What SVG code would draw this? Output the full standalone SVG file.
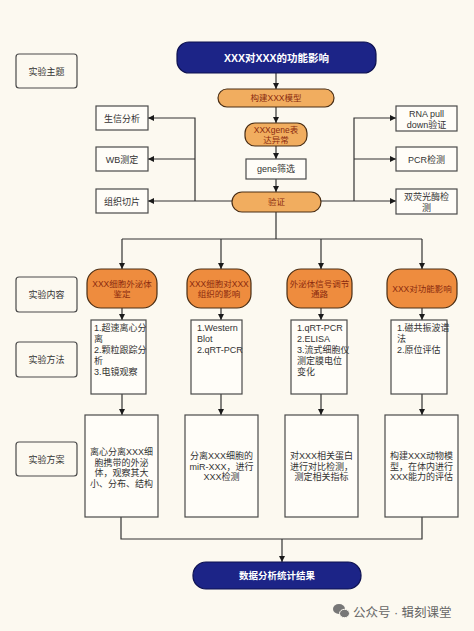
<svg xmlns="http://www.w3.org/2000/svg" width="474" height="631" viewBox="0 0 474 631">
<defs>
<marker id="ah" viewBox="0 0 8 8" refX="8" refY="4" markerWidth="6" markerHeight="6" markerUnits="userSpaceOnUse" orient="auto">
<path d="M0,0 L8,4 L0,8 Z" fill="#1a1a1a"/>
</marker>
<style>
text{font-family:"Liberation Sans","Noto Sans CJK SC",sans-serif;}
.lbl{fill:#fcf9f0;stroke:#4a4a4a;stroke-width:1.2;}
.box{fill:#fffdf8;stroke:#4a4a4a;stroke-width:1.2;}
.nav{fill:#1c2487;stroke:#0d1150;stroke-width:1.2;}
.or1{fill:#f1ad5f;stroke:#4a2e14;stroke-width:1.2;}
.or2{fill:#ee8c3e;stroke:#4a2e14;stroke-width:1.2;}
.t{font-size:9px;fill:#333;text-anchor:middle;}
.tl{font-size:9px;fill:#333;}
.to{font-size:8.5px;fill:#8a2a0e;text-anchor:middle;}
.tw{font-weight:bold;fill:#fff;text-anchor:middle;}
.ln{fill:none;stroke:#333;stroke-width:1.2;}
</style>
</defs>
<rect x="0" y="0" width="474" height="631" fill="#fcf9f0"/>

<g id="connectors">
<path class="ln" d="M276,73 V89" marker-end="url(#ah)"/>
<path class="ln" d="M276,107 V123" marker-end="url(#ah)"/>
<path class="ln" d="M276,146 V159" marker-end="url(#ah)"/>
<path class="ln" d="M276,179 V192" marker-end="url(#ah)"/>
<path class="ln" d="M232,201 H148" marker-end="url(#ah)"/>
<path class="ln" d="M195,201 V118 H148" marker-end="url(#ah)"/>
<path class="ln" d="M195,159 H148" marker-end="url(#ah)"/>
<path class="ln" d="M321,201 H396" marker-end="url(#ah)"/>
<path class="ln" d="M354,201 V118 H396" marker-end="url(#ah)"/>
<path class="ln" d="M354,159 H396" marker-end="url(#ah)"/>
<path class="ln" d="M276,212 V239 M122,239 H422"/>
<path class="ln" d="M122,239 V269" marker-end="url(#ah)"/>
<path class="ln" d="M221,239 V269" marker-end="url(#ah)"/>
<path class="ln" d="M321,239 V269" marker-end="url(#ah)"/>
<path class="ln" d="M422,239 V269" marker-end="url(#ah)"/>
<path class="ln" d="M122,308 V320" marker-end="url(#ah)"/>
<path class="ln" d="M221,308 V320" marker-end="url(#ah)"/>
<path class="ln" d="M321,308 V320" marker-end="url(#ah)"/>
<path class="ln" d="M422,308 V320" marker-end="url(#ah)"/>
<path class="ln" d="M122,394 V415" marker-end="url(#ah)"/>
<path class="ln" d="M221,394 V415" marker-end="url(#ah)"/>
<path class="ln" d="M321,394 V415" marker-end="url(#ah)"/>
<path class="ln" d="M422,394 V415" marker-end="url(#ah)"/>
<path class="ln" d="M121,517 V539 H422 V517"/>
<path class="ln" d="M282,539 V562" marker-end="url(#ah)"/>
</g>

<g id="label-theme"><rect class="lbl" x="16" y="54" width="61" height="34" rx="3"/><text class="t" x="46.5" y="74.5">实验主题</text></g>
<g id="label-content"><rect class="lbl" x="16" y="277" width="61" height="35" rx="3"/><text class="t" x="46.5" y="297.5">实验内容</text></g>
<g id="label-method"><rect class="lbl" x="16" y="342" width="61" height="35" rx="3"/><text class="t" x="46.5" y="362.5">实验方法</text></g>
<g id="label-plan"><rect class="lbl" x="16" y="442" width="61" height="34" rx="3"/><text class="t" x="46.5" y="462.5">实验方案</text></g>

<g id="title"><rect class="nav" x="177" y="42" width="199" height="31" rx="12"/><text class="tw" x="276.5" y="61.5" font-size="10.5">XXX对XXX的功能影响</text></g>
<g id="build"><rect class="or1" x="218" y="89" width="116" height="18" rx="9"/><text class="to" x="276" y="101">构建XXX模型</text></g>
<g id="gene-abn"><rect class="or1" x="245" y="123" width="62" height="23" rx="10"/><text class="to" x="276" y="133">XXXgene表</text><text class="to" x="276" y="143">达异常</text></g>
<g id="gene-screen"><rect class="box" x="246" y="159" width="60" height="20"/><text class="t" x="276" y="172">gene筛选</text></g>
<g id="verify"><rect class="or1" x="232" y="192" width="89" height="20" rx="10"/><text class="to" x="276.5" y="205">验证</text></g>

<g id="bioinfo"><rect class="box" x="96" y="106" width="52" height="24"/><text class="t" x="122" y="121.5">生信分析</text></g>
<g id="wb"><rect class="box" x="96" y="147" width="52" height="24"/><text class="t" x="122" y="162.5">WB测定</text></g>
<g id="slice"><rect class="box" x="96" y="189" width="52" height="24"/><text class="t" x="122" y="204.5">组织切片</text></g>
<g id="rnapull"><rect class="box" x="396" y="106" width="61" height="25"/><text class="t" x="426.5" y="116.5">RNA pull</text><text class="t" x="426.5" y="127.5">down验证</text></g>
<g id="pcr"><rect class="box" x="396" y="147" width="61" height="24"/><text class="t" x="426.5" y="162.5">PCR检测</text></g>
<g id="luc"><rect class="box" x="396" y="189" width="61" height="25"/><text class="t" x="426.5" y="199.5">双荧光酶检</text><text class="t" x="426.5" y="210.5">测</text></g>

<g id="c1"><rect class="or2" x="87" y="269" width="70" height="39" rx="14"/><text class="to" x="122" y="286.5">XXX细胞外泌体</text><text class="to" x="122" y="297">鉴定</text></g>
<g id="c2"><rect class="or2" x="187" y="269" width="64" height="39" rx="14"/><text class="to" x="219" y="286.5">XXX细胞对XXX</text><text class="to" x="219" y="297">组织的影响</text></g>
<g id="c3"><rect class="or2" x="287" y="269" width="65" height="39" rx="14"/><text class="to" x="319.5" y="286.5">外泌体信号调节</text><text class="to" x="319.5" y="297">通路</text></g>
<g id="c4"><rect class="or2" x="387" y="269" width="70" height="39" rx="14"/><text class="to" x="422" y="292">XXX对功能影响</text></g>

<g id="m1"><rect class="box" x="91" y="320" width="55" height="74"/>
<text class="tl" x="94" y="330.5">1.超速离心分</text><text class="tl" x="94" y="341.5">离</text><text class="tl" x="94" y="352.5">2.颗粒跟踪分</text><text class="tl" x="94" y="363.5">析</text><text class="tl" x="94" y="374.5">3.电镜观察</text></g>
<g id="m2"><rect class="box" x="191" y="320" width="51" height="74"/>
<text class="tl" x="197" y="330.5">1.Western</text><text class="tl" x="197" y="341.5">Blot</text><text class="tl" x="197" y="352.5">2.qRT-PCR</text></g>
<g id="m3"><rect class="box" x="291" y="320" width="56" height="74"/>
<text class="tl" x="297" y="330.5">1.qRT-PCR</text><text class="tl" x="297" y="341.5">2.ELISA</text><text class="tl" x="297" y="352.5">3.流式细胞仪</text><text class="tl" x="297" y="363.5">测定膜电位</text><text class="tl" x="297" y="374.5">变化</text></g>
<g id="m4"><rect class="box" x="391" y="320" width="56" height="74"/>
<text class="tl" x="397" y="330.5">1.磁共振波谱</text><text class="tl" x="397" y="341.5">法</text><text class="tl" x="397" y="352.5">2.原位评估</text></g>

<g id="p1"><rect class="box" x="85" y="415" width="73" height="102"/>
<text class="t" x="121.5" y="455">离心分离XXX细</text><text class="t" x="121.5" y="465.5">胞携带的外泌</text><text class="t" x="121.5" y="476">体，观察其大</text><text class="t" x="121.5" y="486.5">小、分布、结构</text></g>
<g id="p2"><rect class="box" x="185" y="415" width="73" height="102"/>
<text class="t" x="221.5" y="459">分离XXX细胞的</text><text class="t" x="221.5" y="469.5">miR-XXX，进行</text><text class="t" x="221.5" y="480">XXX检测</text></g>
<g id="p3"><rect class="box" x="285" y="415" width="73" height="102"/>
<text class="t" x="321.5" y="459">对XXX相关蛋白</text><text class="t" x="321.5" y="469.5">进行对比检测，</text><text class="t" x="321.5" y="480">测定相关指标</text></g>
<g id="p4"><rect class="box" x="385" y="415" width="73" height="102"/>
<text class="t" x="421.5" y="459">构建XXX动物模</text><text class="t" x="421.5" y="469.5">型，在体内进行</text><text class="t" x="421.5" y="480">XXX能力的评估</text></g>

<g id="result"><rect class="nav" x="193" y="562" width="168" height="27" rx="13"/><text class="tw" x="277" y="579" font-size="9.5">数据分析统计结果</text></g>

<g id="watermark">
<ellipse cx="339" cy="609" rx="6" ry="5" fill="#777"/>
<ellipse cx="344.5" cy="613.5" rx="5" ry="4.2" fill="#777" stroke="#fcf9f0" stroke-width="1"/>
<text x="353" y="616.5" font-size="12.5" fill="#666">公众号 · 辑刻课堂</text>
</g>
</svg>
